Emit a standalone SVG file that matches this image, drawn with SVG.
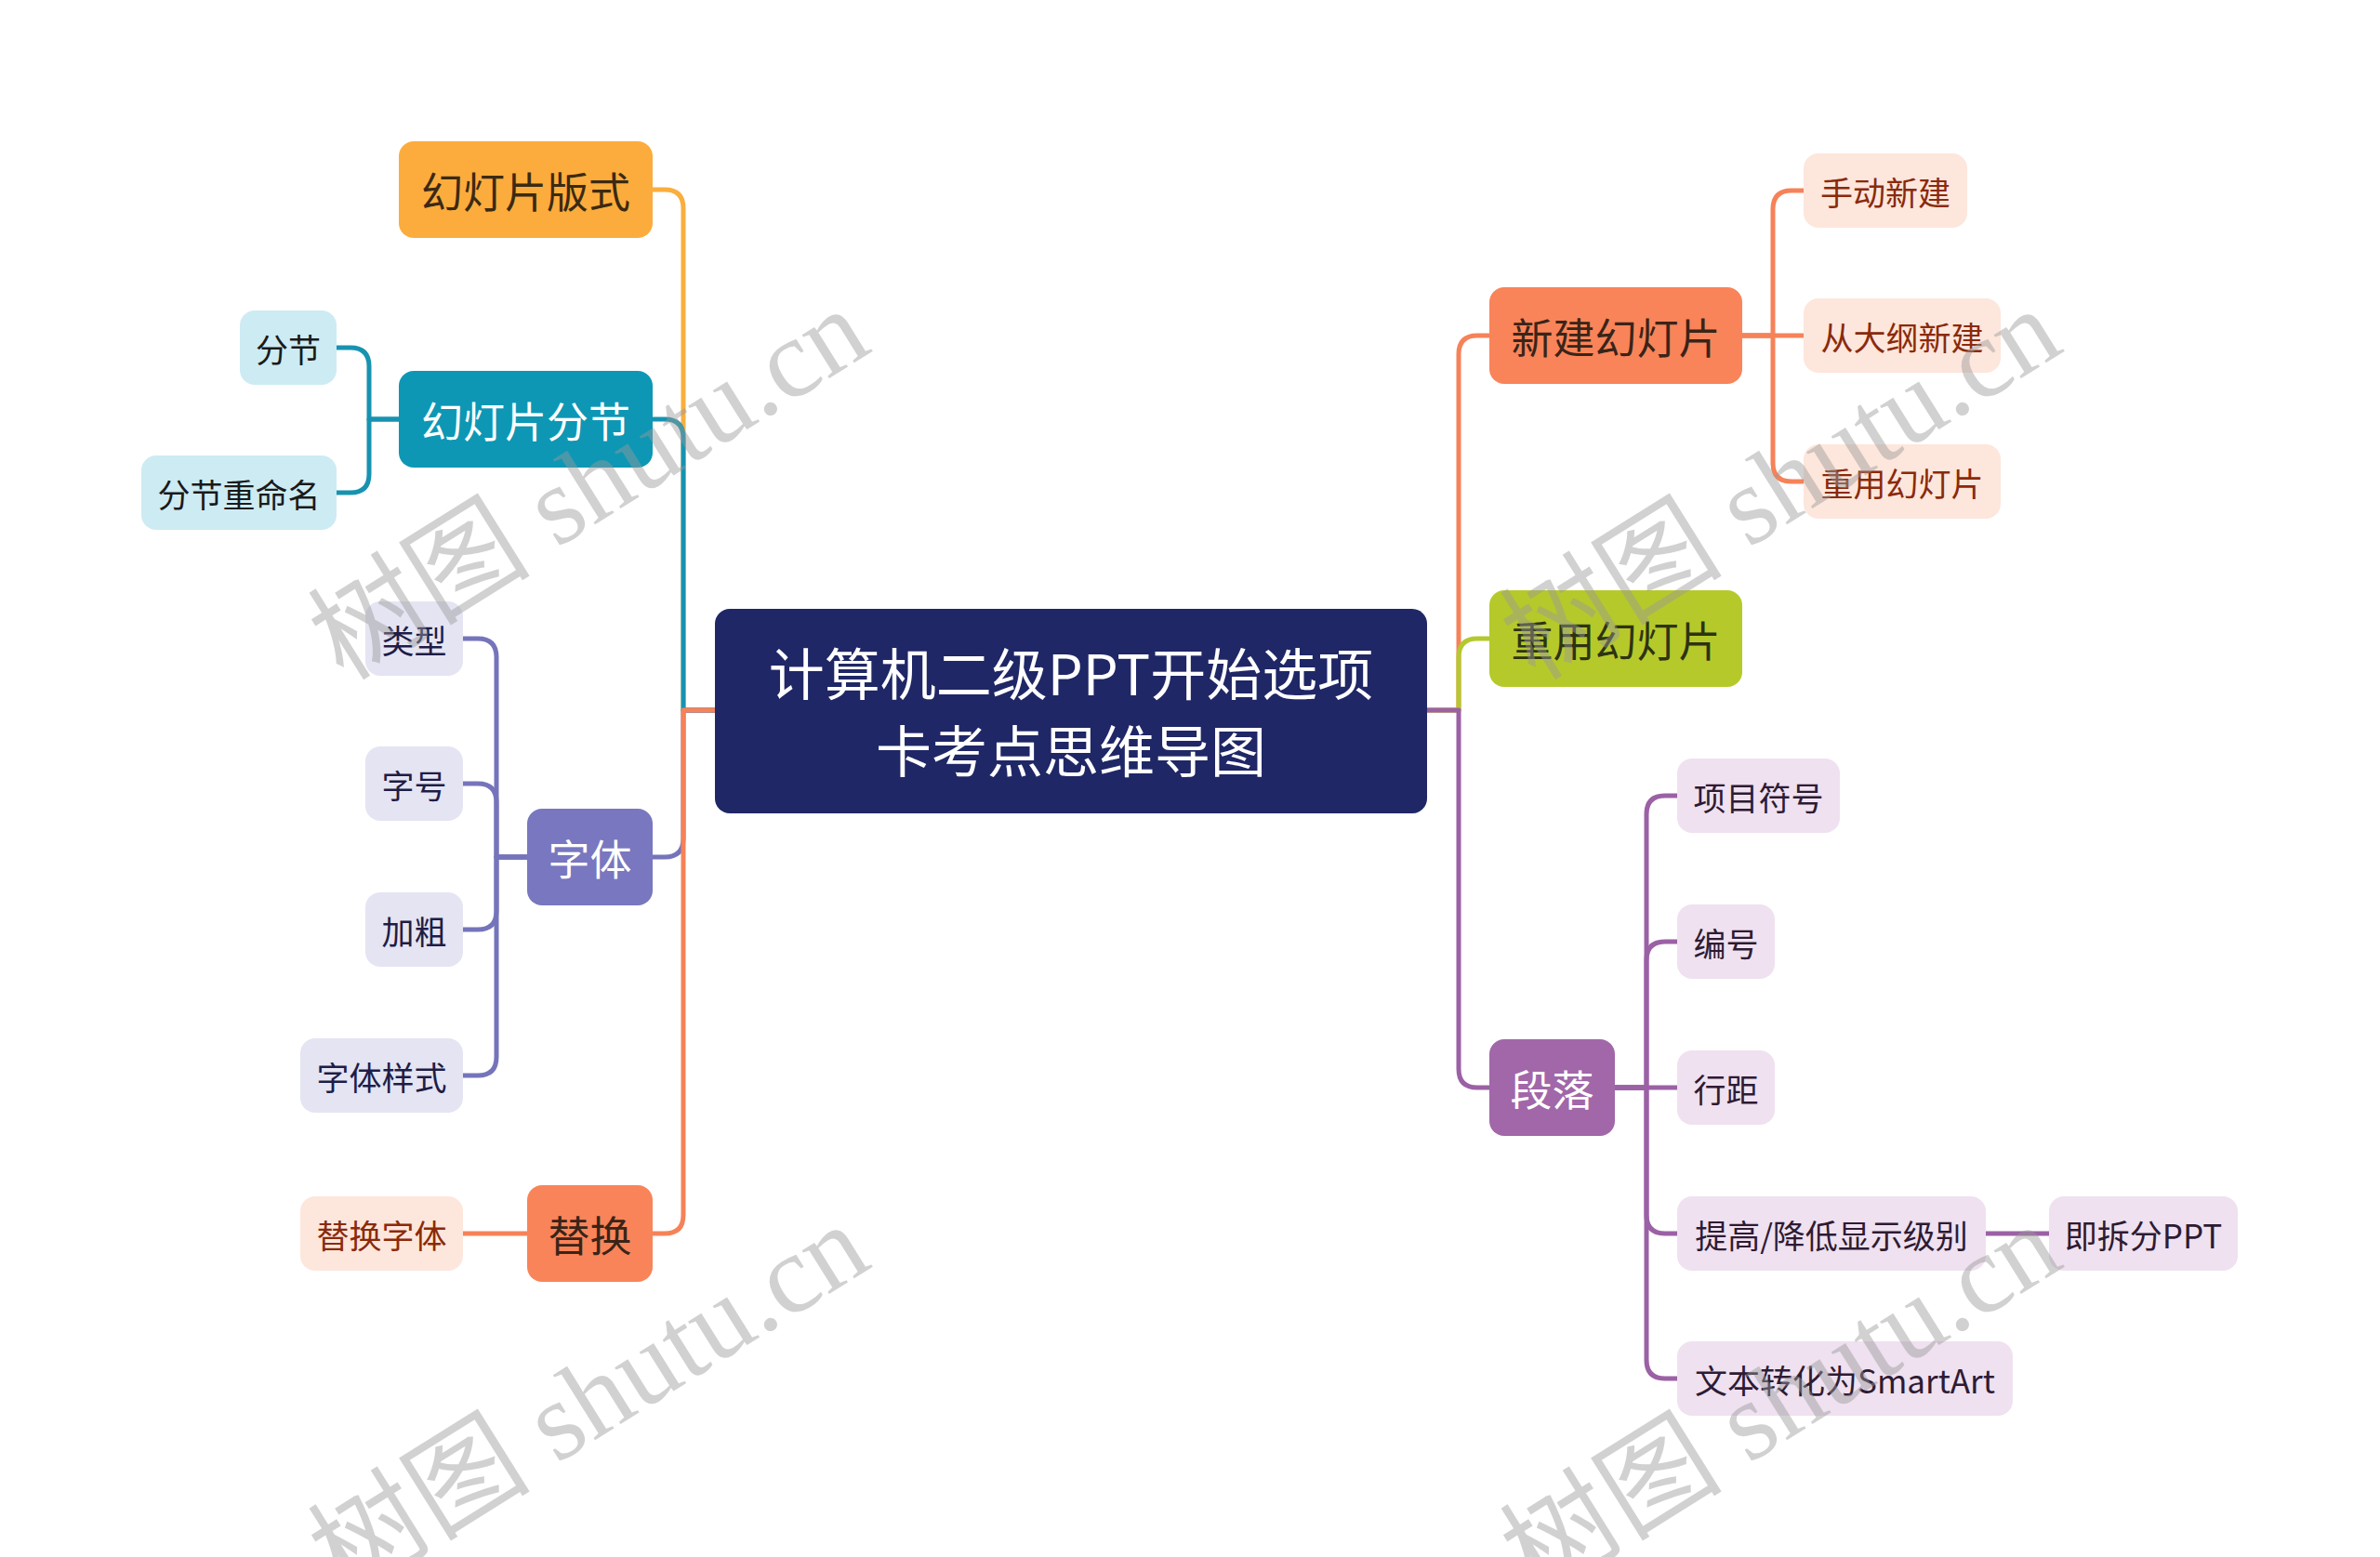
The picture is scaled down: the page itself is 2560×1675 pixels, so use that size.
<svg xmlns="http://www.w3.org/2000/svg" width="2560" height="1675" viewBox="0 0 2560 1675">
<style>
text{font-family:"Noto Sans CJK SC","Noto Sans",sans-serif;text-anchor:middle;dominant-baseline:central}
.main{font-size:45px}
.sub{font-size:35px}
.ctr{font-size:60px;fill:#ffffff}
.ln{fill:none;stroke-width:5;stroke-linecap:round;stroke-linejoin:round}
.wm{font-family:"Liberation Serif","Noto Sans CJK SC",serif;font-size:120px;fill:#9a9a9a;fill-opacity:0.45;text-anchor:middle;dominant-baseline:auto}
</style>
<rect width="2560" height="1675" fill="#ffffff"/>
<g id="connectors">
<path class="ln" stroke="#F9AE3E" d="M702,204 H715 Q735,204 735,224 V764 H769"/>
<path class="ln" stroke="#1793B0" d="M702,451 H715 Q735,451 735,471 V764 H769"/>
<path class="ln" stroke="#7574BB" d="M702,922 H715 Q735,922 735,902 V764 H769"/>
<path class="ln" stroke="#F58258" d="M702,1327 H715 Q735,1327 735,1307 V764 H769"/>
<path class="ln" stroke="#1793B0" d="M429,451 H397 V394 Q397,374 377,374 H362"/>
<path class="ln" stroke="#1793B0" d="M429,451 H397 V510 Q397,530 377,530 H362"/>
<path class="ln" stroke="#7574BB" d="M567,922 H534 V707 Q534,687 514,687 H498"/>
<path class="ln" stroke="#7574BB" d="M567,922 H534 V863 Q534,843 514,843 H498"/>
<path class="ln" stroke="#7574BB" d="M567,922 H534 V980 Q534,1000 514,1000 H498"/>
<path class="ln" stroke="#7574BB" d="M567,922 H534 V1137 Q534,1157 514,1157 H498"/>
<path class="ln" stroke="#F58258" d="M567,1327 H498"/>
<path class="ln" stroke="#F58258" d="M1535,764 H1569 V381 Q1569,361 1589,361 H1602"/>
<path class="ln" stroke="#B4C82F" d="M1535,764 H1569 V707 Q1569,687 1589,687 H1602"/>
<path class="ln" stroke="#9B61A5" d="M1535,764 H1569 V1150 Q1569,1170 1589,1170 H1602"/>
<path class="ln" stroke="#F58258" d="M1874,361 H1907 V225 Q1907,205 1927,205 H1940"/>
<path class="ln" stroke="#F58258" d="M1874,361 H1940"/>
<path class="ln" stroke="#F58258" d="M1874,361 H1907 V498 Q1907,518 1927,518 H1940"/>
<path class="ln" stroke="#9B61A5" d="M1737,1170 H1771 V876 Q1771,856 1791,856 H1804"/>
<path class="ln" stroke="#9B61A5" d="M1737,1170 H1771 V1033 Q1771,1013 1791,1013 H1804"/>
<path class="ln" stroke="#9B61A5" d="M1737,1170 H1804"/>
<path class="ln" stroke="#9B61A5" d="M1737,1170 H1771 V1307 Q1771,1327 1791,1327 H1804"/>
<path class="ln" stroke="#9B61A5" d="M1737,1170 H1771 V1463 Q1771,1483 1791,1483 H1804"/>
<path class="ln" stroke="#9B61A5" d="M2136,1327 H2204"/>
</g>
<g id="center">
<rect x="769" y="655" width="766" height="220" rx="16" fill="#1F2766"/>
<text class="ctr" x="1152" y="721">计算机二级PPT开始选项</text>
<text class="ctr" x="1152" y="804">卡考点思维导图</text>
</g>
<g id="n-banshi"><rect x="429" y="152" width="273" height="104" rx="16" fill="#FCAC3C"/><text class="main" x="565.5" y="204" fill="#3B2A13">幻灯片版式</text></g>
<g id="n-fenjie"><rect x="429" y="399" width="273" height="104" rx="16" fill="#0D97B5"/><text class="main" x="565.5" y="451" fill="#ffffff">幻灯片分节</text></g>
<g id="n-ziti"><rect x="567" y="870" width="135" height="104" rx="16" fill="#7877BF"/><text class="main" x="634.5" y="922" fill="#ffffff">字体</text></g>
<g id="n-tihuan"><rect x="567" y="1275" width="135" height="104" rx="16" fill="#F98459"/><text class="main" x="634.5" y="1327" fill="#3A2418">替换</text></g>
<g id="s-fenjie"><rect x="258" y="334" width="104" height="80" rx="16" fill="#CDEBF3"/><text class="sub" x="310" y="374" fill="#1A1A1A">分节</text></g>
<g id="s-chongming"><rect x="152" y="490" width="210" height="80" rx="16" fill="#CDEBF3"/><text class="sub" x="257" y="530" fill="#1A1A1A">分节重命名</text></g>
<g id="s-leixing"><rect x="393" y="647" width="105" height="80" rx="16" fill="#E4E4F3"/><text class="sub" x="445.5" y="687" fill="#1E1D47">类型</text></g>
<g id="s-zihao"><rect x="393" y="803" width="105" height="80" rx="16" fill="#E4E4F3"/><text class="sub" x="445.5" y="843" fill="#1E1D47">字号</text></g>
<g id="s-jiacu"><rect x="393" y="960" width="105" height="80" rx="16" fill="#E4E4F3"/><text class="sub" x="445.5" y="1000" fill="#1E1D47">加粗</text></g>
<g id="s-yangshi"><rect x="323" y="1117" width="175" height="80" rx="16" fill="#E4E4F3"/><text class="sub" x="410.5" y="1157" fill="#1E1D47">字体样式</text></g>
<g id="s-tihuanziti"><rect x="323" y="1287" width="175" height="80" rx="16" fill="#FDE6DC"/><text class="sub" x="410.5" y="1327" fill="#8A2A0B">替换字体</text></g>
<g id="n-xinjian"><rect x="1602" y="309" width="272" height="104" rx="16" fill="#F98459"/><text class="main" x="1738" y="361" fill="#3A2418">新建幻灯片</text></g>
<g id="n-chongyong"><rect x="1602" y="635" width="272" height="104" rx="16" fill="#B6C92B"/><text class="main" x="1738" y="687" fill="#2D3312">重用幻灯片</text></g>
<g id="n-duanluo"><rect x="1602" y="1118" width="135" height="104" rx="16" fill="#A167A9"/><text class="main" x="1669.5" y="1170" fill="#ffffff">段落</text></g>
<g id="s-shoudong"><rect x="1940" y="165" width="176" height="80" rx="16" fill="#FDE6DC"/><text class="sub" x="2028" y="205" fill="#8A2A0B">手动新建</text></g>
<g id="s-dagang"><rect x="1940" y="321" width="212" height="80" rx="16" fill="#FDE6DC"/><text class="sub" x="2046" y="361" fill="#8A2A0B">从大纲新建</text></g>
<g id="s-chongyong"><rect x="1940" y="478" width="212" height="80" rx="16" fill="#FDE6DC"/><text class="sub" x="2046" y="518" fill="#8A2A0B">重用幻灯片</text></g>
<g id="s-xiangmu"><rect x="1804" y="816" width="175" height="80" rx="16" fill="#EFE1F0"/><text class="sub" x="1891.5" y="856" fill="#2E1B33">项目符号</text></g>
<g id="s-bianhao"><rect x="1804" y="973" width="105" height="80" rx="16" fill="#EFE1F0"/><text class="sub" x="1856.5" y="1013" fill="#2E1B33">编号</text></g>
<g id="s-hangju"><rect x="1804" y="1130" width="105" height="80" rx="16" fill="#EFE1F0"/><text class="sub" x="1856.5" y="1170" fill="#2E1B33">行距</text></g>
<g id="s-tigao"><rect x="1804" y="1287" width="332" height="80" rx="16" fill="#EFE1F0"/><text class="sub" x="1970" y="1327" fill="#2E1B33">提高/降低显示级别</text></g>
<g id="s-chaifen"><rect x="2204" y="1287" width="203" height="80" rx="16" fill="#EFE1F0"/><text class="sub" x="2305.5" y="1327" fill="#2E1B33">即拆分PPT</text></g>
<g id="s-smartart"><rect x="1804" y="1443" width="361" height="80" rx="16" fill="#EFE1F0"/><text class="sub" x="1984.5" y="1483" fill="#2E1B33">文本转化为SmartArt</text></g>
<g id="watermarks">
<text class="wm" transform="translate(655,555) rotate(-32)">树图 shutu.cn</text>
<text class="wm" transform="translate(655,1540) rotate(-32)">树图 shutu.cn</text>
<text class="wm" transform="translate(1937,555) rotate(-32)">树图 shutu.cn</text>
<text class="wm" transform="translate(1937,1540) rotate(-32)">树图 shutu.cn</text>
</g>
</svg>
